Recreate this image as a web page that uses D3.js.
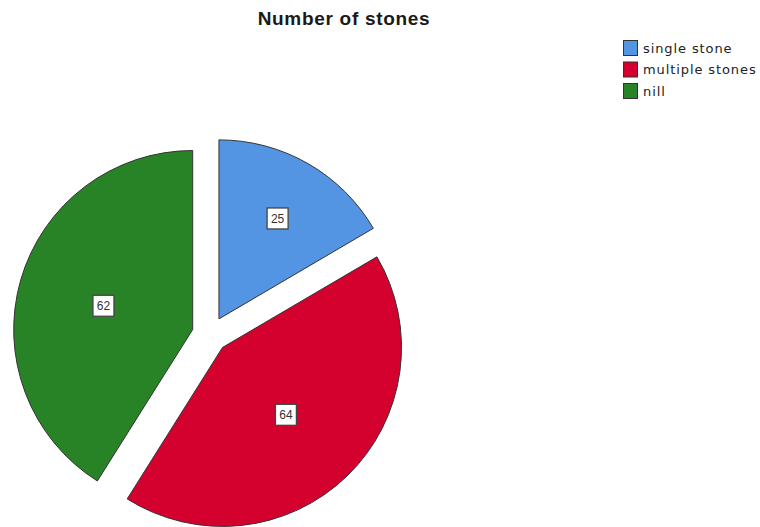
<!DOCTYPE html>
<html>
<head>
<meta charset="utf-8">
<script src="https://cdn.jsdelivr.net/npm/d3@7"></script>
<style>
  html, body { margin: 0; padding: 0; background: #fff; }
  svg { display: block; }
</style>
</head>
<body>
<svg id="chart" width="760" height="527"></svg>
<script>
// Number of stones per patient group
const categories = ["single stone", "multiple stones", "nill"];
const counts = [25, 64, 62];
const sliceColors = ["#5394E3", "#D4002D", "#288327"];
const chartTitle = "Number of stones";

const width = 760, height = 527;
const cx = 210, cy = 334.5;   // pie centre
const radius = 179;
const explode = 18;           // offset of each slice along its bisector

const svg = d3.select("#chart");

svg.append("rect").attr("width", width).attr("height", height).attr("fill", "#fff");

// Title
svg.append("text")
  .attr("x", 344).attr("y", 25)
  .attr("text-anchor", "middle")
  .attr("font-family", "Liberation Sans, Arial, sans-serif")
  .attr("font-weight", "bold")
  .attr("font-size", 19)
  .attr("letter-spacing", 0.7)
  .attr("fill", "#1a1a1a")
  .text(chartTitle);

const pie = d3.pie().sort(null).startAngle(0).endAngle(2 * Math.PI);
const arcs = pie(counts);
const arc = d3.arc().innerRadius(0).outerRadius(radius);

const g = svg.append("g").attr("transform", `translate(${cx},${cy})`);

const slice = g.selectAll("g.slice")
  .data(arcs)
  .join("g")
  .attr("class", "slice")
  .attr("transform", d => {
    const mid = (d.startAngle + d.endAngle) / 2;
    return `translate(${explode * Math.sin(mid)},${-explode * Math.cos(mid)})`;
  });

slice.append("path")
  .attr("d", arc)
  .attr("fill", (d, i) => sliceColors[i])
  .attr("stroke", "#333")
  .attr("stroke-width", 1);

// Value labels near the sector centroid
const labels = slice.append("g")
  .attr("transform", d => {
    const half = (d.endAngle - d.startAngle) / 2;
    const mid = d.startAngle + half;
    const dist = 2 * radius * Math.sin(half) / (3 * half) + 4;
    return `translate(${dist * Math.sin(mid)},${-dist * Math.cos(mid) + 2})`;
  });

labels.append("rect")
  .attr("x", -10.5).attr("y", -10.5)
  .attr("width", 21).attr("height", 21)
  .attr("fill", "#fff")
  .attr("stroke", "#444")
  .attr("stroke-width", 1.3);

labels.append("text")
  .attr("text-anchor", "middle")
  .attr("dy", "0.36em")
  .attr("font-family", "Liberation Sans, Arial, sans-serif")
  .attr("font-size", 12)
  .attr("fill", "#333")
  .text(d => d.data);

// Legend
const legend = svg.append("g").attr("transform", "translate(623,40)");
const rows = legend.selectAll("g")
  .data(categories)
  .join("g")
  .attr("transform", (d, i) => `translate(0,${i * 21.5})`);

rows.append("rect")
  .attr("x", 0.5).attr("y", 0.5)
  .attr("width", 14).attr("height", 15)
  .attr("fill", (d, i) => sliceColors[i])
  .attr("stroke", "#333")
  .attr("stroke-width", 1);

rows.append("text")
  .attr("x", 20).attr("y", 8)
  .attr("dy", "0.36em")
  .attr("font-family", "DejaVu Sans, sans-serif")
  .attr("font-size", 13)
  .attr("letter-spacing", 0.9)
  .attr("fill", "#222")
  .text(d => d);
</script>
</body>
</html>
